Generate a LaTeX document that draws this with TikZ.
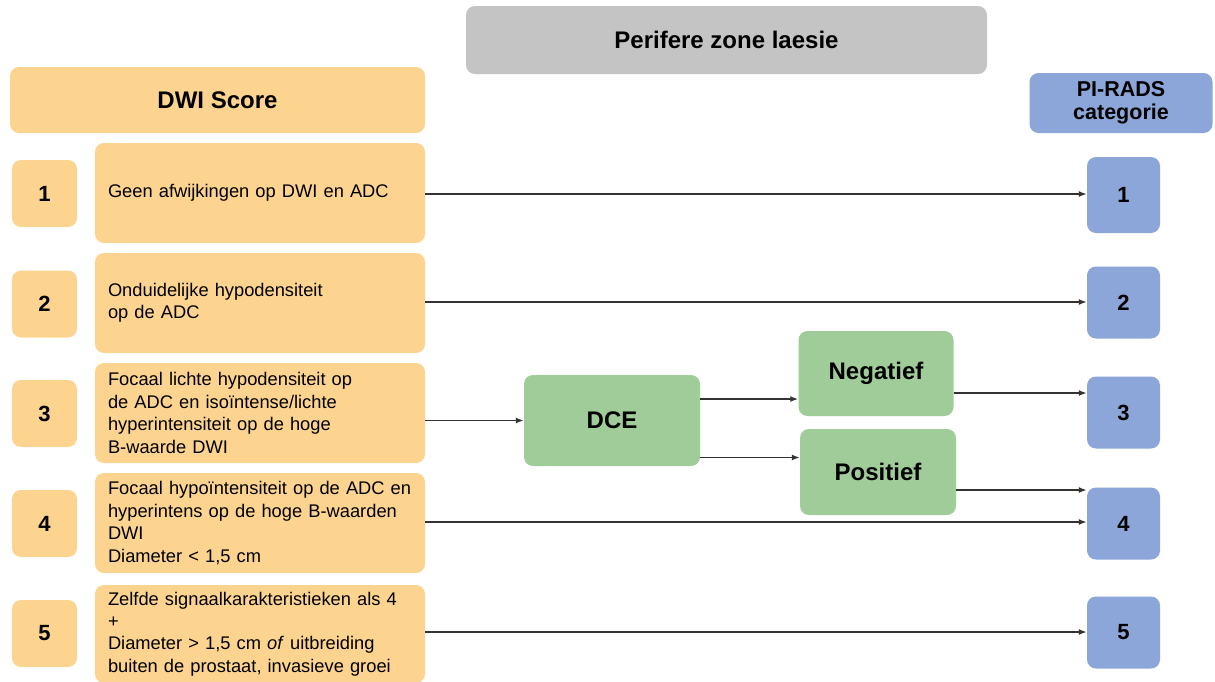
\documentclass[tikz,border=0pt]{standalone}
\usepackage{fontspec}
\setmainfont{Liberation Sans}
\usetikzlibrary{arrows.meta}
\definecolor{orangef}{HTML}{FCD490}
\definecolor{grayf}{HTML}{C4C4C4}
\definecolor{greenf}{HTML}{A0CC99}
\definecolor{bluef}{HTML}{8DA6D9}
\definecolor{arr}{HTML}{333333}
\begin{document}
\begin{tikzpicture}[x=1pt,y=-1pt,
  box/.style={rounded corners=9pt, inner sep=0pt, draw=none, text=black},
  obox/.style={box, fill=orangef},
  gbox/.style={box, fill=grayf},
  grbox/.style={box, fill=greenf, font=\bfseries\fontsize{24}{28}\selectfont},
  bbox/.style={box, fill=bluef},
  hfont/.style={font=\bfseries\fontsize{24}{28}\selectfont},
  numl/.style={obox, minimum width=65pt, minimum height=67pt, font=\bfseries\fontsize{22}{26}\selectfont},
  numr/.style={bbox, minimum width=73pt, minimum height=72pt, font=\bfseries\fontsize{22}{26}\selectfont},
  desc/.style={obox, minimum width=330pt, minimum height=100pt, text width=304pt, inner xsep=13pt, align=left, font=\fontsize{18.3}{22.4}\selectfont},
  conn/.style={draw=arr, line width=1.6pt, -{Latex[length=8pt,width=6pt]}}
]
\useasboundingbox (0,0) rectangle (1215,681);
\fill[white] (0,0) rectangle (1215,681);

% headers
\node[gbox, hfont, minimum width=521pt, minimum height=68pt] (zone) at (726.5,40) {Perifere zone laesie};
\node[obox, hfont, minimum width=415pt, minimum height=66pt] (dwi) at (217.5,100) {DWI Score};
\node[bbox, align=center, minimum width=183pt, minimum height=60pt, font=\bfseries\fontsize{21.5}{23}\selectfont] (pirads) at (1121,103) {\raisebox{-3pt}{PI-RADS}\\\raisebox{-3pt}{categorie}};

% left numbers
\node[numl] (l1) at (44.5,193.5) {1};
\node[numl] (l2) at (44.5,304) {2};
\node[numl] (l3) at (44.5,413.5) {3};
\node[numl] (l4) at (44.5,523.5) {4};
\node[numl] (l5) at (44.5,633.5) {5};

% descriptions
\node[desc] (d1) at (260,193) {Geen afwijkingen op DWI en ADC};
\node[desc] (d2) at (260,303) {Onduidelijke hypodensiteit\\op de ADC};
\node[desc] (d3) at (260,413) {Focaal lichte hypodensiteit op\\de ADC en isoïntense/lichte\\hyperintensiteit op de hoge\\B-waarde DWI};
\node[desc] (d4) at (260,523) {Focaal hypoïntensiteit op de ADC en\\hyperintens op de hoge B-waarden\\DWI\\Diameter < 1,5 cm};
\node[desc, minimum height=98pt] (d5) at (260,634) {Zelfde signaalkarakteristieken als 4\\+\\Diameter > 1,5 cm \textit{of} uitbreiding\\buiten de prostaat, invasieve groei};

% DCE branch
\node[grbox, minimum width=176pt, minimum height=91pt] (dce) at (612,420.5) {DCE};
\node[grbox, minimum width=155pt, minimum height=85pt] (neg) at (876,373.5) {Negatief};
\node[grbox, minimum width=156pt, minimum height=86pt] (pos) at (878,472) {Positief};

% right numbers
\node[numr, minimum height=76pt] (r1) at (1123.5,195) {1};
\node[numr] (r2) at (1123.5,302.5) {2};
\node[numr] (r3) at (1123.5,412.5) {3};
\node[numr] (r4) at (1123.5,523.5) {4};
\node[numr] (r5) at (1123.5,632.5) {5};

% connectors
\coordinate (c1) at ([yshift=-1pt]d1.east);
\draw[conn] (c1) -- (c1 -| r1.west);
\coordinate (c2) at ([yshift=1pt]d2.east);
\draw[conn] (c2) -- (c2 -| r2.west);
\coordinate (c3) at (d3.east |- dce.west);
\draw[conn] (c3) -- (dce.west);
\coordinate (c4) at ([yshift=21.5pt]dce.east);
\draw[conn] (c4) -- (c4 -| neg.west);
\coordinate (c5) at ([yshift=-37pt]dce.east);
\draw[conn] (c5) -- (c5 -| pos.west);
\coordinate (c6) at ([yshift=-19.5pt]neg.east);
\draw[conn] (c6) -- (c6 -| r3.west);
\coordinate (c7) at ([yshift=-18pt]pos.east);
\draw[conn] (c7) -- (c7 -| r4.west);
\coordinate (c8) at ([yshift=1pt]d4.east);
\draw[conn] (c8) -- (c8 -| r4.west);
\coordinate (c9) at ([yshift=2pt]d5.east);
\draw[conn] (c9) -- (c9 -| r5.west);
\end{tikzpicture}
\end{document}
